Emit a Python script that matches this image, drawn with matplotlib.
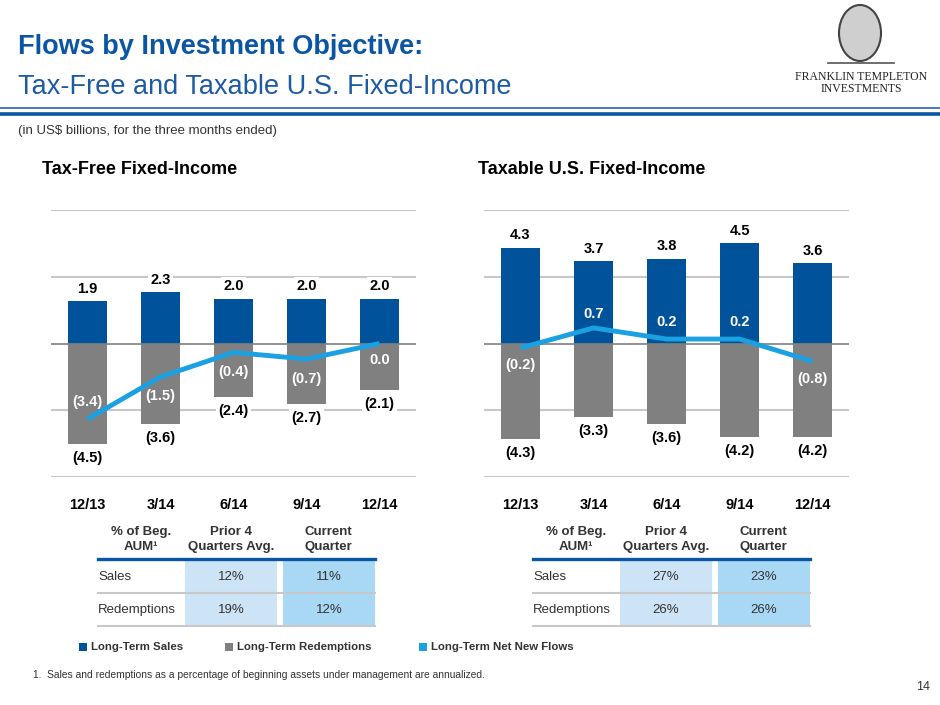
import matplotlib
matplotlib.use('Agg')
import matplotlib.pyplot as plt
from matplotlib.patches import Rectangle, Ellipse
from matplotlib.lines import Line2D
from matplotlib import font_manager as fm
import numpy as np

# data
quarters = ['12/13', '3/14', '6/14', '9/14', '12/14']
taxfree_sales = [1.9, 2.3, 2.0, 2.0, 2.0]
taxfree_redemptions = [-4.5, -3.6, -2.4, -2.7, -2.1]
taxfree_net = [-3.4, -1.5, -0.4, -0.7, 0.0]
taxable_sales = [4.3, 3.7, 3.8, 4.5, 3.6]
taxable_redemptions = [-4.3, -3.3, -3.6, -4.2, -4.2]
taxable_net = [-0.2, 0.7, 0.2, 0.2, -0.8]

table_rows = ['Sales', 'Redemptions']
taxfree_prior = ['12%', '19%']
taxfree_current = ['11%', '12%']
taxable_prior = ['27%', '26%']
taxable_current = ['23%', '26%']

BLUE = '#00539B'
GRAY = '#808080'
LIGHT = '#1BA1E2'
plt.rcParams['font.family'] = ['Liberation Sans', 'DejaVu Sans']

# narrow font if the system has one
installed = {f.name for f in fm.fontManager.ttflist}
if 'Liberation Sans Narrow' in installed:
    NARROW = ['Liberation Sans Narrow', 'DejaVu Sans']
    NS = 1.12
else:
    NARROW = ['Liberation Sans', 'DejaVu Sans']
    NS = 1.0

W, H = 940, 705
fig = plt.figure(figsize=(9.4, 7.05), dpi=100)


def fx(x):
    return x / W


def fy(y):
    return 1 - y / H


def ftext(x, y, s, **kw):
    fig.text(fx(x), fy(y), s, **kw)


# header
ftext(18, 47, 'Flows by Investment Objective:', fontsize=19.5, fontweight='bold',
      color='#0B56A4', va='center')
ftext(18, 87, 'Tax-Free and Taxable U.S. Fixed-Income', fontsize=19.5,
      color='#1C5AA6', va='center')
fig.add_artist(Line2D([0, 1], [fy(108), fy(108)], color='#2A64AE', lw=1.2))
fig.add_artist(Line2D([0, 1], [fy(113.5), fy(113.5)], color='#0B56A4', lw=2.6))
ftext(18, 131, '(in US$ billions, for the three months ended)', fontsize=9.5,
      color='#333333', va='center')

# logo
fig.add_artist(Ellipse((fx(860), fy(33)), 42 / W, 56 / H, facecolor='#CFCFCF',
                       edgecolor='#444444', lw=1.5))
fig.add_artist(Line2D([fx(828), fx(894)], [fy(63), fy(63)], color='#555555', lw=1.2))
ftext(861, 77, 'FRANKLIN TEMPLETON', fontsize=8.5, family='Liberation Serif',
      ha='center', va='center', color='#222222')
ftext(861, 89, 'INVESTMENTS', fontsize=8.5, family='Liberation Serif',
      ha='center', va='center', color='#222222')

ftext(42, 170, 'Tax-Free Fixed-Income', fontsize=13 * NS, fontweight='bold',
      family=NARROW, va='center')
ftext(478, 170, 'Taxable U.S. Fixed-Income', fontsize=13 * NS, fontweight='bold',
      family=NARROW, va='center')


def draw_chart(left, sales, redemptions, net, net_offsets):
    ax = fig.add_axes([fx(left), fy(477), 365 / W, 267 / H])
    x = np.arange(len(quarters))
    for g in [-6, -3, 3, 6]:
        ax.axhline(g, color='#C8C8C8', lw=1.5, zorder=0)
    ax.bar(x, sales, width=0.534, color=BLUE, zorder=2)
    ax.bar(x, redemptions, width=0.534, color=GRAY, zorder=2)
    ax.axhline(0, color='#7F7F7F', lw=1.2, zorder=3)
    ax.plot(x, net, color=LIGHT, lw=3.5, zorder=4, solid_capstyle='butt')
    box = dict(facecolor='white', edgecolor='none', pad=1.5)
    lk = dict(fontsize=10.5 * NS, fontweight='bold', family=NARROW)
    for i in x:
        ax.annotate(f'{sales[i]:.1f}', (i, sales[i]), xytext=(0, 4),
                    textcoords='offset points', ha='center', va='bottom',
                    bbox=box, zorder=5, **lk)
        ax.annotate(f'({abs(redemptions[i]):.1f})', (i, redemptions[i]),
                    xytext=(0, -5), textcoords='offset points', ha='center',
                    va='top', bbox=box, zorder=5, **lk)
        v = net[i]
        lab = f'({abs(v):.1f})' if v < 0 else f'{v:.1f}'
        ax.annotate(lab, (i, v), xytext=(0, net_offsets[i]),
                    textcoords='offset points', ha='center', va='center',
                    color='white', zorder=5, **lk)
    ax.set_xlim(-0.5, len(quarters) - 0.5)
    ax.set_ylim(-6, 6)
    ax.set_yticks([])
    ax.set_xticks(x, quarters, **lk)
    ax.tick_params(axis='x', length=0, pad=15)
    for s in ax.spines.values():
        s.set_visible(False)
    ax.patch.set_alpha(0)
    return ax


draw_chart(51, taxfree_sales, taxfree_redemptions, taxfree_net,
           [12, -14, -14, -14, -12])
draw_chart(484, taxable_sales, taxable_redemptions, taxable_net,
           [-12, 10, 12, 12, -13])


def draw_table(dx, prior, current):
    # header texts
    hk = dict(fontsize=9.5 * NS, fontweight='bold', family=NARROW, color='#333333',
              ha='center', va='center')
    ftext(141 + dx, 532, '% of Beg.', **hk)
    ftext(141 + dx, 547, 'AUM\u00b9', **hk)
    ftext(231 + dx, 532, 'Prior 4', **hk)
    ftext(231 + dx, 547, 'Quarters Avg.', **hk)
    ftext(328 + dx, 532, 'Current', **hk)
    ftext(328 + dx, 547, 'Quarter', **hk)
    # cell backgrounds
    fig.add_artist(Rectangle((fx(185 + dx), fy(626)), 92 / W, 66 / H,
                             facecolor='#CDE4F7', edgecolor='none'))
    fig.add_artist(Rectangle((fx(283 + dx), fy(626)), 92 / W, 66 / H,
                             facecolor='#A9D8F5', edgecolor='none'))
    fig.add_artist(Line2D([fx(98 + dx), fx(375 + dx)], [fy(559), fy(559)],
                          color='#0B56A4', lw=2.4))
    fig.add_artist(Line2D([fx(98 + dx), fx(375 + dx)], [fy(593), fy(593)],
                          color='#C8C8C8', lw=1.5))
    fig.add_artist(Line2D([fx(98 + dx), fx(375 + dx)], [fy(626), fy(626)],
                          color='#C8C8C8', lw=1.5))
    ck = dict(fontsize=9.5, color='#333333', va='center')
    for r, yy in enumerate([577, 610]):
        ftext(98 + dx, yy, table_rows[r], ha='left', **ck)
        ftext(231 + dx, yy, prior[r], ha='center', **ck)
        ftext(329 + dx, yy, current[r], ha='center', **ck)


draw_table(0, taxfree_prior, taxfree_current)
draw_table(435, taxable_prior, taxable_current)

# legend
legend_items = [('Long-Term Sales', BLUE, 79), ('Long-Term Redemptions', GRAY, 225),
                ('Long-Term Net New Flows', LIGHT, 419)]
for name, col, lx in legend_items:
    fig.add_artist(Rectangle((fx(lx), fy(651)), 8 / W, 8 / H, facecolor=col,
                             edgecolor='none'))
    ftext(lx + 12, 647, name, fontsize=8.2 * NS, fontweight='bold', family=NARROW,
          color='#333333', va='center')

ftext(33, 675, '1.  Sales and redemptions as a percentage of beginning assets under '
      'management are annualized.', fontsize=7.4 * NS, family=NARROW,
      color='#333333', va='center')
ftext(916, 687, '14', fontsize=9, color='#333333', va='center')

fig.savefig('out.png', dpi=100)
